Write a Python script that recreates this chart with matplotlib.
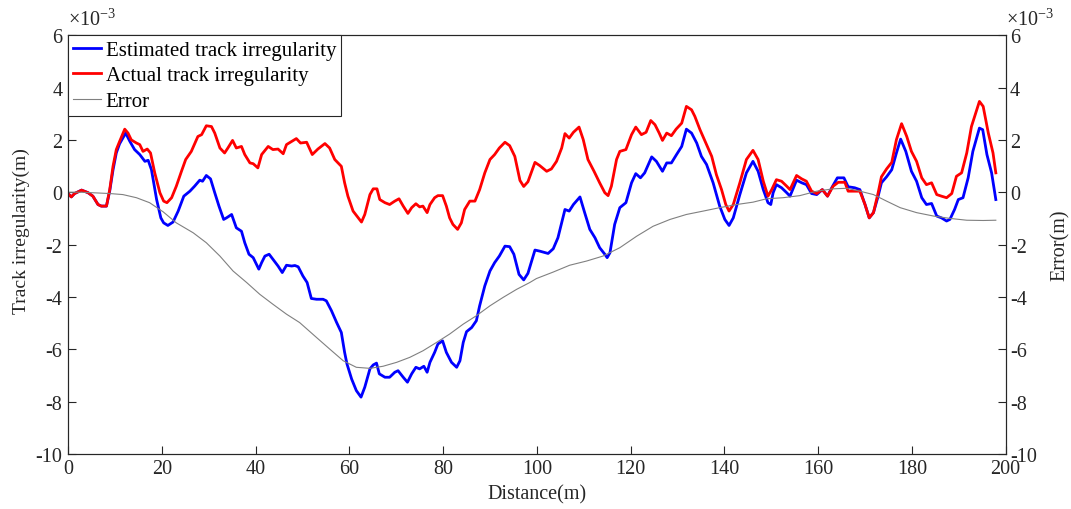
import matplotlib
matplotlib.use('Agg')
import matplotlib.pyplot as plt
from matplotlib.ticker import FuncFormatter

plt.rcParams['font.family'] = ['Liberation Serif', 'DejaVu Serif']
plt.rcParams['mathtext.default'] = 'regular'
plt.rcParams['axes.unicode_minus'] = False

# values, in units of 1e-3 m
est_dist = [0, 0.7, 1.4, 2.9, 4.3, 5.3, 6.4, 7.1, 8.2, 8.9, 9.6, 10.3, 11.0, 12.3, 13.2, 14.2, 15.3, 16.4,
            17.1, 17.8, 18.9, 19.8, 20.4, 21.3, 22.4, 23.5, 24.7, 26.0, 27.0, 28.1, 28.7, 29.5, 30.4, 31.3,
            32.2, 33.2, 33.8, 34.9, 35.9, 37.0, 37.7, 38.6, 39.5, 40.7, 41.3, 42.0, 42.9, 43.7, 44.8, 45.7,
            46.6, 47.7, 48.4, 49.1, 50.1, 51.0, 51.9, 53.0, 54.4, 55.1, 56.2, 57.3, 58.3, 59.0, 59.5, 60.5,
            61.5, 62.5, 63.3, 64.4, 65.1, 65.8, 66.4, 67.6, 68.6, 69.7, 70.4, 71.5, 72.4, 73.3, 74.2, 75.0,
            75.9, 76.6, 77.2, 78.2, 78.9, 79.9, 80.7, 81.8, 82.9, 83.6, 84.3, 85.0, 86.1, 87.1, 87.8, 88.9,
            90.0, 91.0, 92.0, 93.2, 94.2, 95.1, 96.2, 97.2, 98.1, 99.6, 100.6, 102.4, 103.5, 104.5, 106.0,
            106.9, 107.8, 109.2, 110.2, 111.3, 112.4, 113.4, 114.5, 115.0, 115.6, 116.6, 117.7, 119.0, 120.2,
            121.1, 122.1, 123.0, 124.5, 125.5, 126.8, 127.7, 128.7, 129.8, 130.9, 131.9, 133.0, 134.1, 135.1,
            136.2, 137.6, 139.0, 140.1, 141.0, 141.9, 143.3, 144.7, 146.1, 147.2, 148.3, 149.3, 149.9, 150.4,
            151.1, 152.2, 153.3, 154.0, 155.4, 156.5, 157.5, 158.6, 159.7, 160.9, 162.0, 162.9, 164.1, 165.5,
            166.4, 167.8, 168.9, 170.0, 170.9, 171.8, 172.8, 173.5, 174.6, 175.7, 176.7, 177.6, 178.7, 179.9,
            181.0, 182.1, 183.1, 184.2, 185.3, 186.3, 187.4, 188.1, 189.1, 189.9, 190.9, 192.0, 193.0, 194.4,
            195.1, 196.0, 197.0, 197.9]
est_vals = [-0.05, -0.18, -0.05, 0.08, -0.02, -0.15, -0.47, -0.53, -0.53, 0.05, 0.85, 1.50, 1.85, 2.26, 1.94,
            1.63, 1.44, 1.18, 1.22, 0.86, -0.28, -0.98, -1.17, -1.27, -1.14, -0.72, -0.15, 0.04, 0.23, 0.46,
            0.42, 0.64, 0.51, -0.02, -0.53, -1.04, -0.98, -0.85, -1.36, -1.49, -1.93, -2.37, -2.50, -2.94,
            -2.69, -2.44, -2.37, -2.56, -2.82, -3.07, -2.79, -2.82, -2.80, -2.85, -3.20, -3.45, -4.06, -4.09,
            -4.09, -4.15, -4.53, -4.98, -5.36, -6.12, -6.56, -7.14, -7.58, -7.83, -7.45, -6.75, -6.60, -6.53,
            -6.94, -7.07, -7.07, -6.88, -6.82, -7.07, -7.26, -6.94, -6.69, -6.75, -6.65, -6.88, -6.50, -6.12,
            -5.80, -5.68, -6.12, -6.50, -6.69, -6.44, -5.74, -5.33, -5.17, -4.91, -4.34, -3.58, -3.01, -2.69,
            -2.44, -2.06, -2.08, -2.37, -3.14, -3.35, -3.10, -2.21, -2.25, -2.34, -2.16, -1.74, -0.66, -0.72,
            -0.47, -0.18, -0.78, -1.42, -1.74, -2.12, -2.37, -2.50, -2.31, -1.23, -0.59, -0.40, 0.36, 0.71,
            0.55, 0.74, 1.35, 1.18, 0.80, 1.12, 1.12, 1.44, 1.75, 2.41, 2.26, 1.88, 1.37, 1.06, 0.36, -0.53,
            -1.04, -1.27, -0.98, -0.09, 0.74, 1.18, 0.80, 0.10, -0.40, -0.47, -0.02, 0.29, 0.17, -0.02, -0.15,
            0.46, 0.36, 0.29, -0.05, -0.09, 0.10, -0.15, 0.17, 0.55, 0.55, 0.21, 0.17, 0.10, -0.47, -0.98,
            -0.78, -0.15, 0.36, 0.59, 0.86, 1.50, 2.03, 1.56, 0.80, 0.42, -0.21, -0.47, -0.43, -0.91, -0.98,
            -1.10, -1.04, -0.66, -0.28, -0.21, 0.55, 1.56, 2.45, 2.39, 1.44, 0.74, -0.28]

act_dist = [0, 0.7, 1.4, 2.9, 4.3, 5.3, 6.4, 7.1, 8.2, 8.9, 9.6, 10.3, 11.0, 12.1, 12.8, 13.5, 14.6, 15.3,
            16.0, 16.9, 17.6, 18.5, 19.6, 20.4, 21.1, 22.1, 23.1, 24.2, 25.1, 26.3, 27.7, 28.5, 29.5, 30.6,
            31.3, 32.4, 33.4, 34.1, 35.1, 35.9, 37.0, 37.7, 38.8, 39.5, 40.5, 41.3, 42.7, 43.7, 44.8, 45.9,
            46.6, 47.7, 48.7, 49.6, 50.9, 52.1, 53.3, 54.8, 55.8, 56.9, 58.3, 59.0, 59.7, 60.8, 61.9, 62.6,
            63.3, 64.4, 65.1, 65.9, 66.5, 67.6, 68.6, 69.7, 70.6, 71.5, 72.5, 73.3, 74.2, 75.0, 75.7, 76.6,
            77.2, 78.2, 78.9, 79.9, 80.7, 81.4, 82.1, 83.1, 83.9, 84.6, 85.7, 86.8, 87.8, 88.9, 90.0, 91.0,
            92.0, 93.2, 94.2, 95.3, 96.4, 97.2, 98.1, 99.6, 100.6, 102.1, 103.1, 104.2, 105.3, 106.0, 106.9,
            107.8, 109.0, 109.9, 110.9, 112.2, 113.4, 114.5, 115.2, 115.9, 117.0, 117.7, 119.0, 120.2, 121.1,
            122.3, 123.3, 124.3, 125.2, 126.1, 126.8, 127.7, 128.7, 129.7, 130.9, 131.9, 133.0, 133.7, 134.8,
            136.2, 137.3, 138.3, 139.4, 140.3, 141.0, 141.9, 143.3, 144.7, 146.1, 147.2, 148.3, 149.3, 150.1,
            151.1, 152.2, 153.3, 154.0, 155.4, 156.5, 157.5, 158.6, 159.7, 160.9, 162.0, 163.2, 164.3, 165.7,
            166.4, 167.8, 168.9, 170.0, 170.9, 171.8, 172.8, 173.5, 174.6, 175.7, 176.7, 177.8, 178.9, 179.9,
            181.0, 182.1, 183.1, 184.2, 185.3, 186.3, 187.4, 188.5, 189.5, 190.6, 191.7, 192.7, 194.4, 195.2,
            196.3, 197.3, 197.9]
act_vals = [-0.05, -0.18, -0.05, 0.08, -0.02, -0.15, -0.47, -0.53, -0.53, 0.10, 0.99, 1.63, 1.94, 2.41, 2.26,
            2.00, 1.88, 1.82, 1.56, 1.65, 1.50, 0.74, -0.02, -0.34, -0.40, -0.21, 0.23, 0.80, 1.25, 1.56, 2.13,
            2.20, 2.54, 2.51, 2.26, 1.69, 1.50, 1.69, 1.98, 1.69, 1.75, 1.44, 1.12, 1.09, 0.93, 1.44, 1.75,
            1.63, 1.65, 1.47, 1.82, 1.94, 2.05, 1.88, 1.91, 1.44, 1.65, 1.86, 1.69, 1.25, 0.99, 0.36, -0.15,
            -0.72, -0.98, -1.14, -0.85, -0.09, 0.13, 0.13, -0.28, -0.40, -0.47, -0.34, -0.25, -0.53, -0.81,
            -0.59, -0.44, -0.56, -0.53, -0.78, -0.47, -0.21, -0.13, -0.13, -0.53, -0.98, -1.23, -1.42, -1.17,
            -0.66, -0.34, -0.34, 0.10, 0.74, 1.25, 1.44, 1.69, 1.91, 1.78, 1.37, 0.45, 0.22, 0.40, 1.14, 1.02,
            0.80, 0.89, 1.18, 1.69, 2.24, 2.07, 2.29, 2.49, 2.01, 1.25, 0.80, 0.36, -0.02, -0.13, 0.23, 1.25,
            1.56, 1.63, 2.20, 2.49, 2.20, 2.29, 2.74, 2.58, 2.26, 1.98, 2.26, 2.16, 2.41, 2.64, 3.28, 3.15,
            2.90, 2.39, 1.82, 1.37, 0.67, 0.10, -0.47, -0.72, -0.47, 0.36, 1.25, 1.60, 1.25, 0.42, -0.15, 0.10,
            0.48, 0.42, 0.23, 0.10, 0.64, 0.51, 0.42, 0.04, -0.05, 0.10, -0.15, 0.23, 0.38, 0.38, 0.04, 0.04,
            0.04, -0.47, -0.98, -0.78, -0.02, 0.59, 0.89, 1.14, 2.01, 2.62, 2.13, 1.56, 1.18, 0.55, 0.29, 0.36,
            -0.09, -0.15, -0.21, -0.05, 0.61, 0.74, 1.50, 2.51, 3.47, 3.28, 2.26, 1.50, 0.74]

err_dist = [0, 2.5, 5.3, 8.9, 11.7, 14.6, 17.4, 20.3, 23.1, 26.7, 29.5, 32.4, 35.2, 38.1, 40.9, 43.7, 46.6,
            49.4, 53.0, 55.8, 58.7, 61.5, 64.4, 67.2, 70.1, 72.9, 75.7, 78.6, 81.4, 84.3, 87.1, 90.0, 92.8,
            95.7, 98.5, 99.9, 103.5, 107.0, 110.6, 114.1, 117.7, 121.3, 124.8, 128.4, 131.9, 135.5, 139.0,
            142.6, 146.1, 149.0, 152.5, 156.1, 159.7, 163.2, 166.1, 168.9, 171.8, 174.6, 177.5, 181.0, 184.6,
            188.1, 191.7, 195.2, 197.9]
err_vals = [0, 0, -0.02, -0.05, -0.09, -0.21, -0.40, -0.75, -1.17, -1.55, -1.93, -2.44, -3.01, -3.45, -3.90,
            -4.28, -4.66, -4.98, -5.55, -5.99, -6.44, -6.69, -6.73, -6.65, -6.50, -6.31, -6.06, -5.74, -5.42,
            -5.04, -4.72, -4.34, -4.02, -3.71, -3.45, -3.30, -3.05, -2.79, -2.63, -2.44, -2.12, -1.68, -1.30,
            -1.04, -0.85, -0.72, -0.59, -0.47, -0.38, -0.25, -0.21, -0.13, 0.04, 0.13, 0.15, 0.04, -0.09,
            -0.34, -0.59, -0.78, -0.91, -1.00, -1.07, -1.08, -1.07]

SCALE = 1e-3
dark = '#262626'

fig, ax = plt.subplots(figsize=(10.71, 5.10), dpi=100)
fig.subplots_adjust(left=0.0635, right=0.939, bottom=0.108, top=0.929)
ax2 = ax.twinx()

l1, = ax.plot(est_dist, [v * SCALE for v in est_vals], color='#0000ff', lw=2.0)
l2, = ax.plot(act_dist, [v * SCALE for v in act_vals], color='#ff0000', lw=2.0)
l3, = ax2.plot(err_dist, [v * SCALE for v in err_vals], color='#808080', lw=0.8)

fmt = FuncFormatter(lambda v, p: f'{v / SCALE:g}')
for a in (ax, ax2):
    a.set_xlim(0, 200)
    a.set_ylim(-10 * SCALE, 6 * SCALE)
    a.set_yticks([t * SCALE for t in range(-10, 7, 2)])
    a.yaxis.set_major_formatter(fmt)
    for s in a.spines.values():
        s.set_color(dark)
        s.set_linewidth(0.8)

ax.set_xticks(range(0, 201, 20))
ax.tick_params(axis='both', direction='in', length=6, width=0.8, colors=dark, labelsize=14.5, pad=2)
ax.tick_params(axis='x', top=False, pad=4)
ax.tick_params(axis='y', right=False, pad=4)
ax2.tick_params(axis='y', direction='in', length=6, width=0.8, colors=dark, labelsize=14.5, pad=3)

ax.set_xlabel('Distance(m)', fontsize=14.5, color=dark, labelpad=4)
ax.set_ylabel('Track irregularity(m)', fontsize=14, color=dark)
ax.yaxis.set_label_coords(-0.041, 0.535)
ax2.set_ylabel('Error(m)', fontsize=14.5, color=dark, labelpad=10)

ax.text(0.0, 1.012, r'$\times$10$^{-3}$', transform=ax.transAxes, fontsize=14.5, color=dark, ha='left', va='bottom')
ax2.text(1.0, 1.012, r'$\times$10$^{-3}$', transform=ax2.transAxes, fontsize=14.5, color=dark, ha='left', va='bottom')

leg = ax2.legend([l1, l2, l3], ['Estimated track irregularity', 'Actual track irregularity', 'Error'],
                 loc='upper left', bbox_to_anchor=(0, 1), borderaxespad=0, fontsize=15,
                 fancybox=False, framealpha=1, edgecolor=dark, handlelength=1.35, handletextpad=0.2,
                 labelspacing=0.28, borderpad=0.25)
leg.get_frame().set_linewidth(0.8)
for t in leg.get_texts():
    t.set_color('#000000')

fig.savefig('out.png', dpi=100)
